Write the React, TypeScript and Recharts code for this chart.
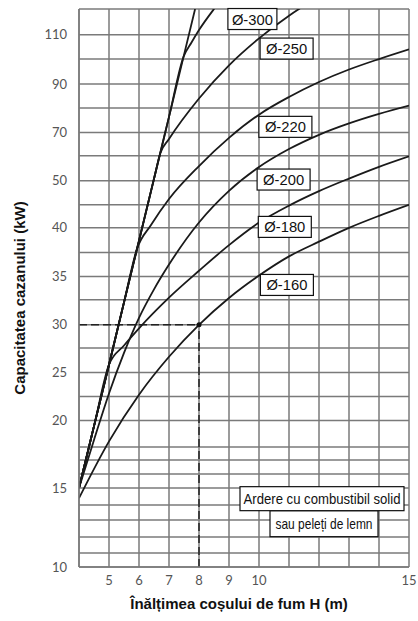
import React from "react";
import {
  LineChart,
  Line,
  XAxis,
  YAxis,
  CartesianGrid,
  ReferenceLine,
  ReferenceDot,
  Label,
} from "recharts";

// nomogram y axis: grid values (kW) and where each grid line sits
const Y_GRID = [10, 11, 12, 13, 14, 15, 16, 17, 18, 19, 20, 22.5, 25, 27.5, 30, 32.5, 35, 37.5, 40, 45, 50, 60, 70, 80, 90, 100, 110, 120];
const Y_GRID_POS = [0, 14, 30, 47, 62, 79, 93, 107, 120, 134, 146.3, 170.3, 194.3, 219, 242, 267, 290.3, 314.3, 339, 362, 386, 411, 434.3, 458.7, 482.7, 507.7, 532, 557.7];
const Y_LABELS = [10, 15, 20, 25, 30, 35, 40, 50, 70, 90, 110];

const X_TICKS = [4, 5, 6, 7, 8, 9, 10, 11, 12, 13, 14, 15];
const X_LABELS = [5, 6, 7, 8, 9, 10, 15];

// chimney height H (m) -> boiler capacity (kW), one pair per flue diameter
const H_LIMIT = [4, 4.5, 5, 5.5, 6, 6.5, 7, 7.5, 7.87];
const Q_LIMIT = [15, 19.55, 25.8, 32.25, 38.7, 50.8, 76.4, 101.7, 120];
const H160 = [4, 5, 6, 7, 8, 9, 10, 11, 12, 13, 14, 15];
const Q160 = [14.4, 18.4, 22.7, 26.6, 30, 32.7, 35.1, 37.1, 38.6, 40, 42.6, 45];
const H180 = [4, 4.5, 5, 5.5, 6, 7, 8, 9, 10, 11, 12, 13, 14, 15];
const Q180 = [15, 19.55, 25.8, 27.76, 29.63, 32.74, 35.6, 38.25, 41.13, 44.83, 47.85, 50.9, 55.6, 59.8];
const H200 = [4, 4.5, 5, 5.5, 6, 6.5, 7, 8, 9, 10, 11, 12, 13, 14, 15];
const Q200 = [15, 18.5, 22.83, 26.99, 30.7, 33.63, 36.25, 41.15, 47.9, 55.5, 62.9, 69, 73.7, 77.6, 81];
const H220 = [4, 4.5, 5, 5.5, 5.93, 6.4, 7, 8, 9, 10, 11, 12, 13, 14, 15];
const Q220 = [15, 19.55, 25.8, 32.25, 37.84, 40.6, 46.2, 55.9, 67.7, 77.3, 84.6, 90.8, 95.8, 100, 104];
const H250 = [4, 4.5, 5, 5.5, 6, 6.5, 6.71, 7, 8, 9, 10, 11, 12];
const Q250 = [15, 19.55, 25.8, 32.25, 38.7, 50.8, 61.1, 67.2, 84, 97.5, 108.5, 117.4, 124.9];
const H300 = [4, 4.5, 5, 5.5, 6, 6.5, 7, 7.49, 7.75, 8, 8.5, 9];
const Q300 = [15, 19.55, 25.8, 32.25, 38.7, 50.8, 76.4, 101.1, 106.8, 111.8, 120, 127.3];

const DIAMETERS = ["Ø-160", "Ø-180", "Ø-200", "Ø-220", "Ø-250", "Ø-300"];
const LABEL_H = [10.93, 10.86, 10.82, 10.88, 10.92, 9.78];
const LABEL_Q = [34.1, 40.2, 50.5, 72.3, 104.3, 116.1];

const NOTE = ["Ardere cu combustibil solid", "sau peleți de lemn"];

const toPos = (v: number) => {
  let i = 1;
  while (i < Y_GRID.length - 1 && v > Y_GRID[i]) i++;
  const v0 = Y_GRID[i - 1], v1 = Y_GRID[i];
  const p0 = Y_GRID_POS[i - 1], p1 = Y_GRID_POS[i];
  return p0 + ((v - v0) / (v1 - v0)) * (p1 - p0);
};
const fromPos = (p: number) => {
  const i = Y_GRID_POS.findIndex((g) => Math.abs(g - p) < 0.01);
  return i >= 0 ? Y_GRID[i] : NaN;
};

const series = (hs: number[], qs: number[]) => hs.map((h, i) => ({ h, p: toPos(qs[i]) }));

const curves = [
  series(H_LIMIT, Q_LIMIT),
  series(H160, Q160),
  series(H180, Q180),
  series(H200, Q200),
  series(H220, Q220),
  series(H250, Q250),
  series(H300, Q300),
];

const LABEL_FONT = "'Liberation Sans', Arial, sans-serif";
const GRID = "#7a7a7a";

function DiaBox(props: any) {
  const { cx, cy, text } = props;
  const w = text === "Ø-300" ? 49 : 53;
  return (
    <g>
      <rect x={cx - w / 2} y={cy - 10.5} width={w} height={21} fill="#fff" stroke="#111" strokeWidth={1.2} />
      <text
        x={cx}
        y={cy + 5.5}
        textAnchor="middle"
        fontFamily={LABEL_FONT}
        fontSize={15}
        fill="#111"
        textLength={41}
        lengthAdjust="spacingAndGlyphs"
      >
        {text}
      </text>
    </g>
  );
}

function NoteBox(props: any) {
  const { cx, cy } = props;
  return (
    <g fontFamily={LABEL_FONT} fontSize={14.5} fill="#111">
      <rect x={cx - 52} y={cy} width={108} height={26} fill="#fff" stroke="#111" strokeWidth={1.2} />
      <rect x={cx - 82} y={cy - 24} width={164} height={24} fill="#fff" stroke="#111" strokeWidth={1.2} />
      <text x={cx} y={cy - 6.5} textAnchor="middle" textLength={157} lengthAdjust="spacingAndGlyphs">
        {NOTE[0]}
      </text>
      <text x={cx + 2} y={cy + 18.5} textAnchor="middle" textLength={97} lengthAdjust="spacingAndGlyphs">
        {NOTE[1]}
      </text>
    </g>
  );
}

export default function App() {
  return (
    <div style={{ position: "absolute", left: 0, top: 0, background: "#fff" }}>
      <LineChart width={418} height={621} margin={{ top: 9, right: 9, bottom: 0, left: 0 }}>
        <CartesianGrid stroke={GRID} strokeWidth={1.5} />
        <XAxis
          type="number"
          dataKey="h"
          domain={[4, 15]}
          ticks={X_TICKS}
          allowDataOverflow
          height={54}
          tickSize={0}
          tickMargin={9}
          axisLine={{ stroke: GRID, strokeWidth: 1.5 }}
          tick={{ fill: "#555", fontSize: 13, fontFamily: "Lato, sans-serif" }}
          tickFormatter={(v: number) => (X_LABELS.includes(v) ? String(v) : "")}
        >
          <Label
            content={() => (
              <text x={239} y={609} textAnchor="middle" fontFamily={LABEL_FONT} fontWeight="bold" fontSize={15} fill="#111">
                Înălțimea coșului de fum H (m)
              </text>
            )}
          />
        </XAxis>
        <YAxis
          type="number"
          domain={[0, Y_GRID_POS[Y_GRID_POS.length - 1]]}
          ticks={Y_GRID_POS}
          allowDataOverflow
          width={79}
          tickSize={0}
          tickMargin={12}
          axisLine={{ stroke: GRID, strokeWidth: 1.5 }}
          tick={{ fill: "#555", fontSize: 13, fontFamily: "Lato, sans-serif" }}
          tickFormatter={(p: number) => {
            const v = fromPos(p);
            return Y_LABELS.includes(v) ? String(v) : "";
          }}
        >
          <Label
            content={() => (
              <text
                x={25}
                y={298}
                transform="rotate(-90 25 298)"
                textAnchor="middle"
                fontFamily={LABEL_FONT}
                fontWeight="bold"
                fontSize={15}
                fill="#111"
              >
                Capacitatea cazanului (kW)
              </text>
            )}
          />
        </YAxis>
        <ReferenceLine
          segment={[{ x: 4, y: toPos(30) }, { x: 8, y: toPos(30) }]}
          stroke="#222"
          strokeWidth={1.5}
          strokeDasharray="8 4"
        />
        <ReferenceLine
          segment={[{ x: 8, y: toPos(10) }, { x: 8, y: toPos(30) }]}
          stroke="#222"
          strokeWidth={1.5}
          strokeDasharray="8 4"
        />
        {curves.map((d, i) => (
          <Line
            key={i}
            data={d}
            dataKey="p"
            type="monotone"
            stroke="#1a1a1a"
            strokeWidth={1.8}
            dot={false}
            activeDot={false}
            isAnimationActive={false}
          />
        ))}
        <ReferenceDot x={8} y={toPos(30)} r={2.5} fill="#111" stroke="none" />
        {DIAMETERS.map((t, i) => (
          <ReferenceDot
            key={t}
            x={LABEL_H[i]}
            y={toPos(LABEL_Q[i])}
            shape={(p: any) => <DiaBox {...p} text={t} />}
          />
        ))}
        <ReferenceDot x={12.1} y={toPos(13.62)} shape={(p: any) => <NoteBox {...p} />} />
      </LineChart>
    </div>
  );
}
